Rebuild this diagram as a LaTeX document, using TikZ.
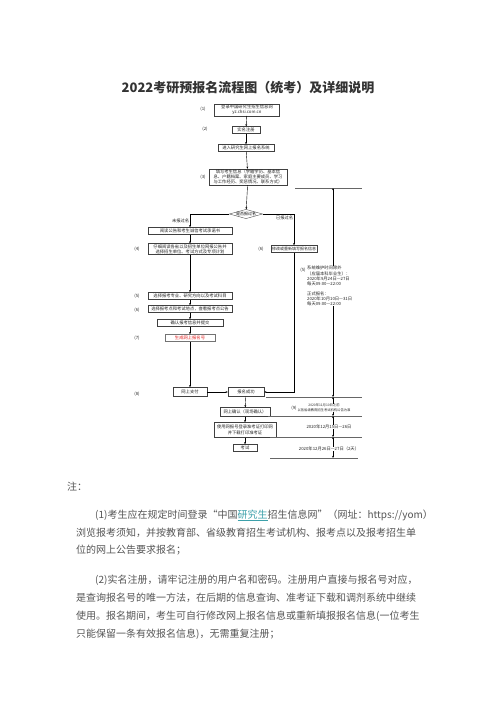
\documentclass[tikz,border=0pt]{standalone}
\usepackage{fontspec}
\setmainfont{Noto Sans CJK SC}
\usetikzlibrary{shapes.geometric,arrows.meta,positioning}
\definecolor{bodygray}{RGB}{85,85,85}
\definecolor{linkteal}{RGB}{60,160,170}
\definecolor{numred}{RGB}{225,30,30}
\newcommand\flowfs{\fontsize{4.3}{5.3}\selectfont}
\newcommand\smallfs{\fontsize{3.3}{4.6}\selectfont}
\newcommand\bodyfs{\fontsize{10}{12}\selectfont}

\begin{document}
\begin{tikzpicture}[x=1pt,y=-1pt,>={Stealth[length=2.2pt,width=1.8pt]},
  box/.style={draw=black!75,line width=0.35pt,inner sep=0.7pt,font=\flowfs,text=black!85,align=center,minimum height=7pt},
  num/.style={font=\flowfs,text=black!85,inner sep=0.6pt},
  note/.style={font=\flowfs,text=black!85,align=left,inner sep=0pt},
  tl/.style={draw=black!60,line width=0.35pt},
  body/.style={font=\bodyfs,text=bodygray,anchor=west,inner sep=0pt}]
  \useasboundingbox[fill=white] (0,0) rectangle (496,702);
  \node(title)[font=\fontsize{13}{15}\selectfont\bfseries,text=black!80] at (248,88){2022考研预报名流程图（统考）及详细说明};

  % flow chart
  \node(site)[box,minimum width=65pt] at (247,110){登录中国研究生招生信息网\\yz.chsi.com.cn};
  \node(reg)[box,minimum width=28pt] at (246,130){实名注册};
  \node(sys)[box,minimum width=56pt] at (246,148){进入研究生网上报名系统};
  \node(info)[box,minimum width=78pt] at (248,177){填写考生信息（学籍学历、基本信\\息、户籍档案、家庭主要成员、学习\\与工作经历、奖惩情况、联系方式）};
  \node(ask)[diamond,draw=black!75,line width=0.35pt,aspect=3.6,inner sep=0pt,font=\fontsize{4}{5}\selectfont] at (246,214){是否报过名};
  \node(read)[box,minimum width=84pt] at (190,231){阅读公告和考生诚信考试承诺书};
  \node(pick)[box,minimum width=84pt] at (190,249){仔细阅读各省以及招生单位网报公告并\\选择招生单位、考试方式及专项计划};
  \node(major)[box,minimum width=84pt] at (190,296){选择报考专业、研究方向以及考试科目};
  \node(point)[box,minimum width=84pt] at (190,309){选择报考点和考试地点，查看报考点公告};
  \node(confirm)[box,minimum width=66pt] at (190,323){确认报考信息并提交};
  \node(number)[box,minimum width=50pt,draw=black!55,text=numred] at (190,338){生成网上报名号};
  \node(pay)[box,minimum width=34pt,minimum height=9pt] at (190,392){网上支付};
  \node(success)[box,minimum width=36pt,minimum height=9pt] at (246,392){报名成功};
  \node(modify)[box,minimum width=46pt,font=\fontsize{4}{5}\selectfont] at (294,249){修改或重新填写报名信息};
  \node(check)[box,minimum width=50pt,minimum height=9pt] at (245,412){网上确认（现场确认）};
  \node(ticket)[box,minimum width=62pt,minimum height=15pt] at (245,430){使用网报号登录准考证打印网\\并下载打印准考证};
  \node(exam)[box,minimum width=24pt] at (245,448){考试};

  % step numbers
  \node(n1)[num] at (203,109){(1)};
  \node(n2)[num] at (205,129){(2)};
  \node(n3)[num] at (203,177){(3)};
  \node(n4)[num] at (137,249){(4)};
  \node(n5)[num] at (137,296){(5)};
  \node(n6)[num] at (137,310){(6)};
  \node(n7)[num] at (137,338){(7)};
  \node(n8)[num] at (137,394){(8)};
  \node(n6b)[num] at (261,249){(6)};
  \node(n5b)[num] at (303,270){(5)};
  \node(n9)[num] at (294,408){(9)};

  \path[->] (site) edge (reg)
            (reg) edge (sys)
            (sys) edge (info)
            (info) edge (ask)
            (read) edge (pick)
            (pick) edge (major)
            (major) edge (point)
            (point) edge (confirm)
            (confirm) edge (number)
            (number) edge (pay)
            (pay) edge (success)
            (success) edge (check)
            (check) edge (ticket)
            (ticket) edge (exam);
  \draw[->] (ask.west) -| node[pos=0.75,left,num]{未报过名} (read.north);
  \draw[->] (ask.east) -| node[pos=0.56,left,num]{已报过名} (modify.north);
  \draw[->] (modify.south) |- (success.east);

  % time line on the right
  \coordinate(m1) at (333,188);
  \coordinate(m2) at (333,397);
  \coordinate(m3) at (333,416);
  \coordinate(m4) at (333,437);
  \coordinate(m5) at (333,458);
  \foreach \y/\a/\b in {188/295/362,397/266/362,416/268/362,437/270/362,458/270/358}
    \draw[tl] (\a,\y) -- (\b,\y);
  \node(pre)[note,anchor=north west] at (307,266){系统维护时间除外\\（应届本科毕业生）：\\2020年9月24日—27日\\每天09:00—22:00\\[4pt]正式报名：\\2020年10月10日—31日\\每天09:00—22:00};
  \node(sign)[note,font=\smallfs,align=center] at (324,408){2020年11月10日之前\\以各省级教育招生考试机构公告为准};
  \node(print)[note] at (329,427){2020年12月15日—26日};
  \node(day)[note] at (329,449){2020年12月26日—27日（2天）};
  \draw[->] (pre.north -| m1) -- (m1);
  \draw[->] (pre.south -| m2) -- (m2);
  \draw[->] (sign.north -| m2) -- (m2);
  \draw[->] (sign.south -| m3) -- (m3);
  \draw[->] (print.north -| m3) -- (m3);
  \draw[->] (print.south -| m4) -- (m4);
  \draw[->] (day.north -| m4) -- (m4);
  \draw[->] (day.south -| m5) -- (m5);

  % notes below
  \node(zhu)[body] at (67,487){注：};
  \node(l1)[body] at (95,515.5){(1)考生应在规定时间登录“中国\textcolor{linkteal}{\underline{研究生}}招生信息网”（网址：https://yom）};
  \node(l2)[body] at (76,533){浏览报考须知，并按教育部、省级教育招生考试机构、报考点以及报考招生单};
  \node(l3)[body] at (76,550.5){位的网上公告要求报名；};
  \node(l4)[body] at (95,580){(2)实名注册，请牢记注册的用户名和密码。注册用户直接与报名号对应，};
  \node(l5)[body] at (76,598){是查询报名号的唯一方法，在后期的信息查询、准考证下载和调剂系统中继续};
  \node(l6)[body] at (76,616.5){使用。报名期间，考生可自行修改网上报名信息或重新填报报名信息(一位考生};
  \node(l7)[body] at (76,634.5){只能保留一条有效报名信息)，无需重复注册；};
\end{tikzpicture}
\end{document}
